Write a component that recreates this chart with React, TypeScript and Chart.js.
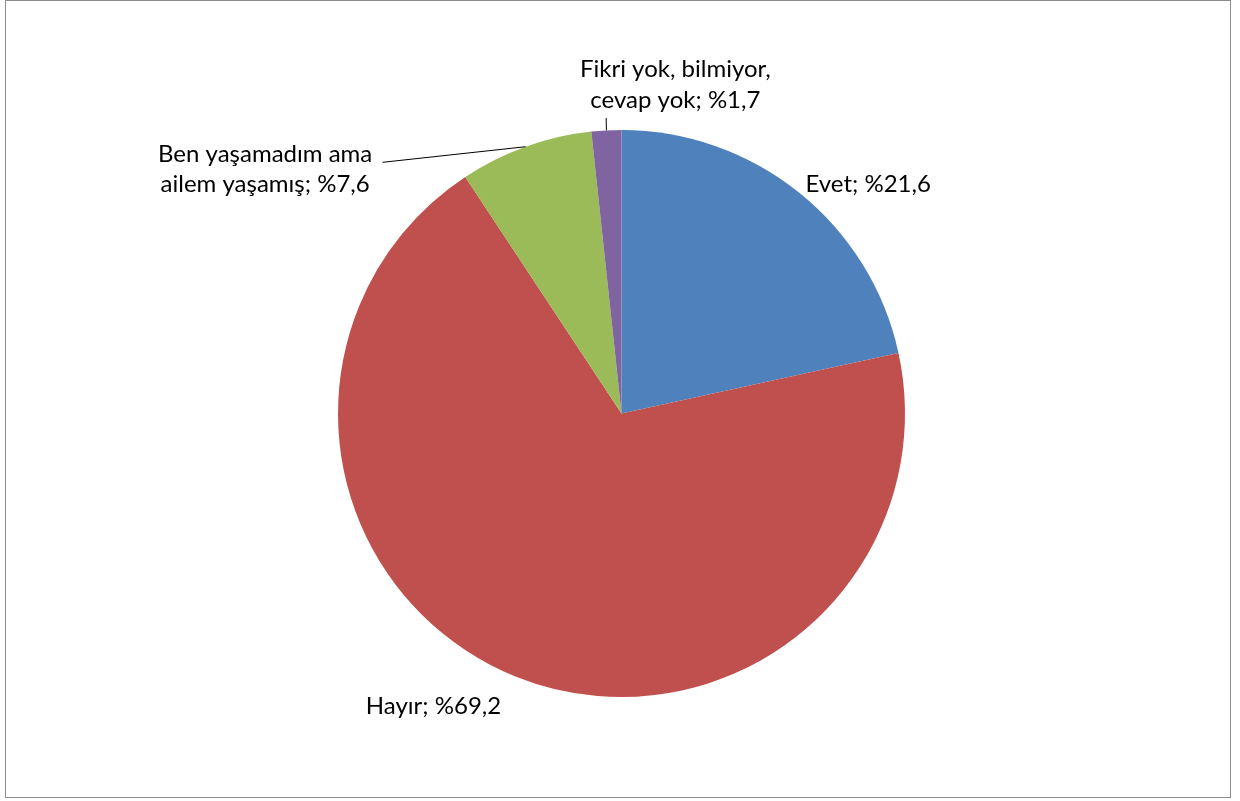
import React, { useEffect, useRef } from "react";
import { Chart, registerables } from "chart.js";

Chart.register(...registerables);

const categories = [
  "Evet",
  "Hayır",
  "Ben yaşamadım ama ailem yaşamış",
  "Fikri yok, bilmiyor, cevap yok",
];
const values = [21.6, 69.2, 7.6, 1.7];
const valueLabels = ["%21,6", "%69,2", "%7,6", "%1,7"];
const labelLines = [
  ["Evet; %21,6"],
  ["Hayır; %69,2"],
  ["Ben yaşamadım ama", "ailem yaşamış; %7,6"],
  ["Fikri yok, bilmiyor,", "cevap yok; %1,7"],
];
const colors = ["#4F81BD", "#C0504D", "#9BBB59", "#8064A2"];

// label text centre, as fractions of the radius from the pie centre
const labelAnchors = [
  [0.87, -0.808],
  [-0.663, 1.0335],
  [-1.257, -0.862],
  [0.19, -1.159],
];
// leader line end (fraction of radius), null = none
const leaderEnds: (number[] | null)[] = [null, null, [-0.843, -0.886], [-0.054, -1.042]];

const FONT = "24px Lato, 'Open Sans', sans-serif";
const LINE_H = 30.5;

const labelPlugin = {
  id: "excelLabels",
  beforeDraw(chart: any) {
    const ctx = chart.ctx;
    ctx.save();
    ctx.fillStyle = "#ffffff";
    ctx.fillRect(0, 0, chart.width, chart.height);
    ctx.strokeStyle = "#8c8c8c";
    ctx.lineWidth = 1;
    ctx.strokeRect(5.5, 0.5, 1225, 797);
    ctx.restore();
  },
  afterDraw(chart: any) {
    const ctx = chart.ctx;
    const meta = chart.getDatasetMeta(0);
    ctx.save();
    meta.data.forEach((arc: any, i: number) => {
      const { x: cx, y: cy, outerRadius: r, startAngle, endAngle } = arc.getProps(
        ["x", "y", "outerRadius", "startAngle", "endAngle"],
        true
      );
      const mid = (startAngle + endAngle) / 2;
      const end = leaderEnds[i];
      if (end) {
        ctx.strokeStyle = "#000";
        ctx.lineWidth = 1;
        ctx.beginPath();
        ctx.moveTo(cx + Math.cos(mid) * r, cy + Math.sin(mid) * r);
        ctx.lineTo(cx + end[0] * r, cy + end[1] * r);
        ctx.stroke();
      }
      const [ax, ay] = labelAnchors[i];
      const tx = cx + ax * r;
      const ty = cy + ay * r;
      const lines = labelLines[i];
      ctx.font = FONT;
      ctx.fillStyle = "#000";
      ctx.textAlign = "center";
      ctx.textBaseline = "middle";
      lines.forEach((ln, k) => {
        ctx.fillText(ln, tx, ty + (k - (lines.length - 1) / 2) * LINE_H);
      });
    });
    ctx.restore();
  },
};

export default function App() {
  const ref = useRef<HTMLCanvasElement | null>(null);
  useEffect(() => {
    document.body.style.margin = "0";
    const chart = new Chart(ref.current!, {
      type: "pie",
      data: {
        labels: categories.map((c, i) => `${c}; ${valueLabels[i]}`),
        datasets: [
          {
            data: values,
            backgroundColor: colors,
            borderWidth: 0,
          },
        ],
      },
      options: {
        responsive: false,
        animation: false,
        layout: { padding: { left: 338, right: 335, top: 130, bottom: 104 } },
        plugins: {
          legend: { display: false },
          tooltip: { enabled: false },
        },
      },
      plugins: [labelPlugin],
    });
    return () => chart.destroy();
  }, []);
  return (
    <div style={{ position: "absolute", left: 0, top: 0, width: 1240, height: 801 }}>
      <canvas ref={ref} width={1240} height={801} />
    </div>
  );
}
